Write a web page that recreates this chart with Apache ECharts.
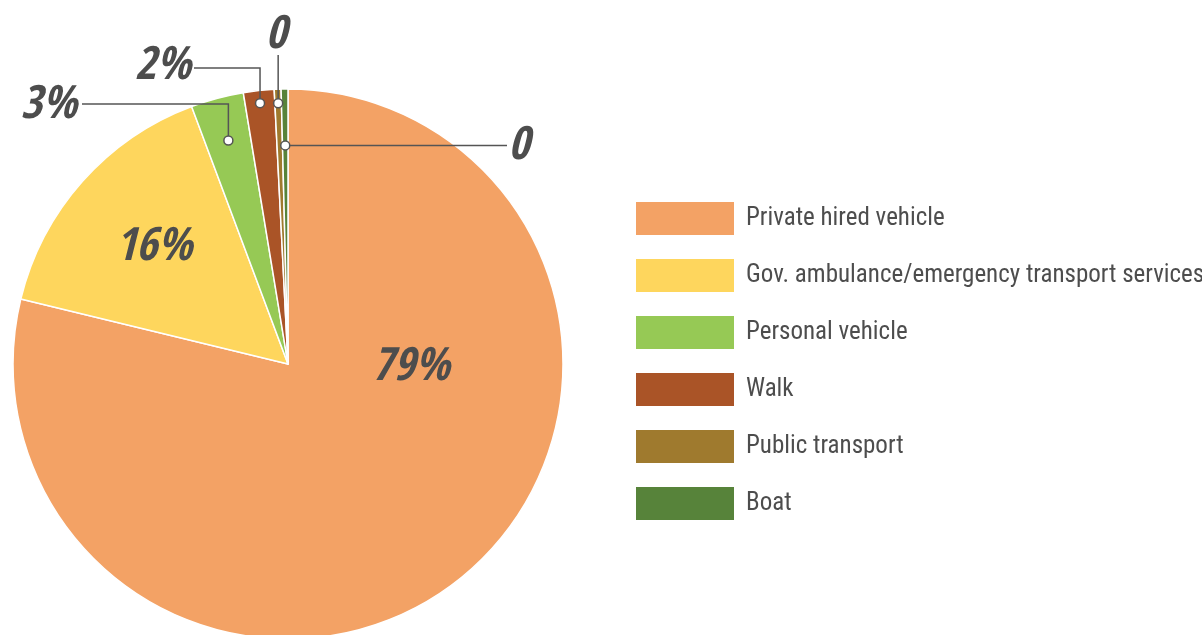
<!DOCTYPE html>
<html><head><meta charset="utf-8">
<script src="https://cdn.jsdelivr.net/npm/echarts@6/dist/echarts.min.js"></script>
<style>html,body{margin:0;padding:0;background:#fff}#c{width:1202px;height:635px}</style>
</head><body><div id="c"></div>
<script>
// ---- data ----
const categories = ['Private hired vehicle', 'Gov. ambulance/emergency transport services', 'Personal vehicle', 'Walk', 'Public transport', 'Boat'];
const shares = [78.8, 15.5, 3.1, 1.8, 0.4, 0.4];
const labelTexts = ['79%', '16%', '3%', '2%', '0', '0'];
const colors = ['#F3A265', '#FED65D', '#96C955', '#AA5427', '#9F7A2E', '#57833A'];

// ---- fonts ----
const LEGEND_FONT = '"Roboto Condensed", "DejaVu Sans Condensed", sans-serif';
const LABEL_FONT = '"Open Sans Condensed", "Roboto Condensed", "DejaVu Sans Condensed", sans-serif';

// ---- layout / style ----
const CX = 288, CY = 364, R = 275;
const INK = '#4d4d4d', LINE = '#555555';
const TY = 3; // vertical nudge of label text
const place = [
  {type: 'fixed', dx: 123, dy: 1},
  {type: 'radial', k: 1.28},
  {type: 'callout', k: 0.841, elbowY: 104, endX: 82, lx: 77, ly: 103, align: 'right'},
  {type: 'callout', k: 0.954, elbowY: 68, endX: 194, lx: 191, ly: 64, align: 'right'},
  {type: 'callout', k: 0.949, elbowY: 55, endX: null, lx: 276, ly: 33, align: 'center'},
  {type: 'callout', k: 0.795, elbowY: null, endX: 507, lx: 508, ly: 144, align: 'left'}
];
const leaders = [];

const chart = echarts.init(document.getElementById('c'), null, {renderer: 'canvas'});
const data = categories.map((name, i) => ({
  name, value: shares[i],
  itemStyle: {color: colors[i]},
  label: {position: place[i].type === 'callout' ? 'outside' : 'inside'},
  labelLine: {show: place[i].type === 'callout'}
}));

const option = {
  animation: false,
  backgroundColor: '#ffffff',
  legend: {
    orient: 'vertical', left: 634, top: 200, padding: 0,
    itemWidth: 100, itemHeight: 35, itemGap: 20, icon: 'rect',
    selectedMode: false,
    textStyle: {fontFamily: LEGEND_FONT, fontSize: 25, color: INK, padding: [11, 0, 0, 6]},
    data: categories
  },
  series: [{
    type: 'pie',
    center: [CX, CY], radius: R,
    startAngle: 90, clockwise: true,
    avoidLabelOverlap: false,
    itemStyle: {borderColor: '#ffffff', borderWidth: 1.5},
    label: {
      formatter: p => labelTexts[p.dataIndex],
      fontFamily: LABEL_FONT, fontSize: 46, fontWeight: 'bold', fontStyle: 'italic', color: INK
    },
    labelLine: {show: true, length: 10, length2: 10, lineStyle: {opacity: 0}},
    emphasis: {disabled: true},
    labelLayout: function (params) {
      const p = place[params.dataIndex];
      if (p.type === 'fixed') return {x: CX + p.dx, y: CY + p.dy + TY, align: 'center', verticalAlign: 'middle'};
      if (p.type === 'radial') {
        const lr = params.labelRect;
        const mx = lr.x + lr.width / 2, my = lr.y + lr.height / 2;
        return {x: CX + (mx - CX) * p.k, y: CY + (my - CY) * p.k + TY, align: 'center', verticalAlign: 'middle'};
      }
      // anchor on the slice's mid-angle ray (from the library's own label-line start point)
      const e = params.labelLinePoints[0];
      const ax = CX + (e[0] - CX) * p.k, ay = CY + (e[1] - CY) * p.k;
      let pts;
      if (p.elbowY == null) pts = [[ax, ay], [p.endX, ay]];
      else if (p.endX == null) pts = [[ax, ay], [ax, p.elbowY]];
      else pts = [[ax, ay], [ax, p.elbowY], [p.endX, p.elbowY]];
      leaders[params.dataIndex] = pts;
      return {x: p.lx, y: p.ly + TY, align: p.align, verticalAlign: 'middle'};
    },
    data: data
  }]
};
chart.setOption(option);

let done = false;
function drawLeaders() {
  if (done) return;
  const list = leaders.filter(Boolean);
  if (!list.length) return;
  done = true;
  const g = [];
  list.forEach(pts => {
    g.push({type: 'polyline', z: 100, shape: {points: pts}, style: {stroke: LINE, lineWidth: 1.5, fill: null}});
  });
  list.forEach(pts => {
    g.push({type: 'circle', z: 101, shape: {cx: pts[0][0], cy: pts[0][1], r: 4.5}, style: {fill: '#ffffff', stroke: LINE, lineWidth: 1.5}});
  });
  chart.setOption({graphic: g});
}
drawLeaders();
chart.on('finished', drawLeaders);
</script></body></html>
